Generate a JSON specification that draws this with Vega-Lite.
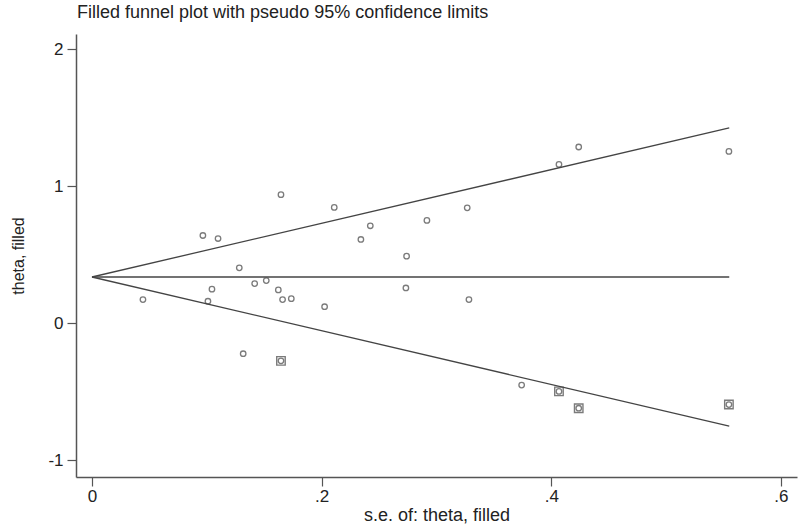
{
  "$schema": "https://vega.github.io/schema/vega-lite/v6.json",
  "width": 721,
  "height": 443,
  "autosize": {"type": "none"},
  "padding": {"left": 76, "top": 34, "right": 3, "bottom": 49},
  "background": "white",
  "title": {
    "text": "Filled funnel plot with pseudo 95% confidence limits",
    "anchor": "start",
    "frame": "group",
    "font": "Liberation Sans",
    "fontSize": 18,
    "fontWeight": "normal",
    "color": "#222222",
    "offset": 12,
    "dx": 1
  },
  "config": {
    "view": {"stroke": null},
    "axis": {
      "grid": false,
      "domainColor": "#555555",
      "tickColor": "#555555",
      "labelFont": "Liberation Sans",
      "titleFont": "Liberation Sans",
      "labelFontSize": 17,
      "titleFontSize": 17,
      "titleFontWeight": "normal",
      "labelColor": "#222222",
      "titleColor": "#222222",
      "tickSize": 9,
      "domainWidth": 1.5,
      "tickWidth": 1.2
    }
  },
  "datasets": {
    "studies": [
      {"se": 0.1646, "theta": 0.939, "kind": "observed"},
      {"se": 0.2110, "theta": 0.846, "kind": "observed"},
      {"se": 0.0966, "theta": 0.641, "kind": "observed"},
      {"se": 0.1098, "theta": 0.619, "kind": "observed"},
      {"se": 0.2424, "theta": 0.712, "kind": "observed"},
      {"se": 0.2342, "theta": 0.612, "kind": "observed"},
      {"se": 0.1283, "theta": 0.405, "kind": "observed"},
      {"se": 0.1045, "theta": 0.249, "kind": "observed"},
      {"se": 0.1417, "theta": 0.290, "kind": "observed"},
      {"se": 0.1518, "theta": 0.312, "kind": "observed"},
      {"se": 0.1623, "theta": 0.244, "kind": "observed"},
      {"se": 0.1660, "theta": 0.173, "kind": "observed"},
      {"se": 0.1736, "theta": 0.180, "kind": "observed"},
      {"se": 0.0444, "theta": 0.173, "kind": "observed"},
      {"se": 0.1010, "theta": 0.161, "kind": "observed"},
      {"se": 0.2026, "theta": 0.121, "kind": "observed"},
      {"se": 0.1317, "theta": -0.222, "kind": "observed"},
      {"se": 0.4239, "theta": 1.287, "kind": "observed"},
      {"se": 0.4067, "theta": 1.160, "kind": "observed"},
      {"se": 0.5547, "theta": 1.255, "kind": "observed"},
      {"se": 0.3268, "theta": 0.843, "kind": "observed"},
      {"se": 0.2917, "theta": 0.751, "kind": "observed"},
      {"se": 0.2740, "theta": 0.490, "kind": "observed"},
      {"se": 0.2734, "theta": 0.258, "kind": "observed"},
      {"se": 0.3283, "theta": 0.173, "kind": "observed"},
      {"se": 0.3742, "theta": -0.451, "kind": "observed"},
      {"se": 0.1646, "theta": -0.274, "kind": "filled"},
      {"se": 0.4067, "theta": -0.497, "kind": "filled"},
      {"se": 0.4239, "theta": -0.620, "kind": "filled"},
      {"se": 0.5547, "theta": -0.593, "kind": "filled"}
    ],
    "limits": [
      {"se": 0, "theta": 0.338, "line": "upper"},
      {"se": 0.555, "theta": 1.426, "line": "upper"},
      {"se": 0, "theta": 0.338, "line": "center"},
      {"se": 0.555, "theta": 0.338, "line": "center"},
      {"se": 0, "theta": 0.338, "line": "lower"},
      {"se": 0.555, "theta": -0.750, "line": "lower"}
    ]
  },
  "layer": [
    {
      "data": {"name": "limits"},
      "mark": {"type": "line", "color": "#444444", "strokeWidth": 1.3},
      "encoding": {
        "x": {
          "field": "se", "type": "quantitative",
          "scale": {"domain": [-0.0139, 0.614], "nice": false, "zero": false},
          "axis": {
            "title": "s.e. of: theta, filled",
            "titleFontSize": 18,
            "values": [0, 0.2, 0.4, 0.6],
            "labelExpr": "datum.value == 0 ? '0' : replace(format(datum.value, '.1f'), '0.', '.')",
            "labelPadding": 2,
            "titlePadding": 2
          }
        },
        "y": {
          "field": "theta", "type": "quantitative",
          "scale": {"domain": [-1.122, 2.112], "nice": false, "zero": false},
          "axis": {
            "title": "theta, filled",
            "titleFontSize": 16,
            "values": [-1, 0, 1, 2],
            "labelExpr": "datum.value < 0 ? '-' + format(-datum.value, 'd') : format(datum.value, 'd')",
            "labelAngle": 0,
            "labelPadding": 4,
            "titlePadding": 21
          }
        },
        "detail": {"field": "line", "type": "nominal"}
      }
    },
    {
      "data": {"name": "studies"},
      "mark": {"type": "point", "shape": "circle", "filled": false, "size": 30, "color": "#444444", "strokeWidth": 1.3},
      "encoding": {
        "x": {"field": "se", "type": "quantitative"},
        "y": {"field": "theta", "type": "quantitative"}
      }
    },
    {
      "data": {"name": "studies"},
      "transform": [{"filter": "datum.kind == 'filled'"}],
      "mark": {"type": "point", "shape": "square", "filled": false, "size": 72, "color": "#444444", "strokeWidth": 1.4},
      "encoding": {
        "x": {"field": "se", "type": "quantitative"},
        "y": {"field": "theta", "type": "quantitative"}
      }
    }
  ]
}
